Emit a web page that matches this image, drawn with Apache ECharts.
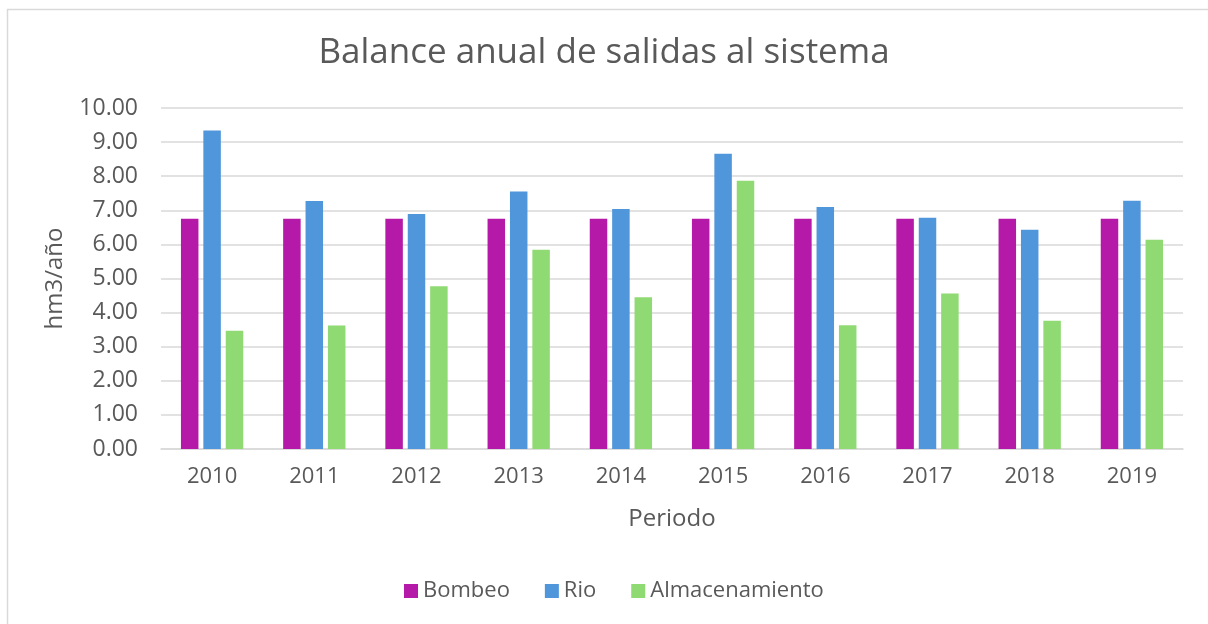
<!DOCTYPE html>
<html><head><meta charset="utf-8">
<script src="https://cdn.jsdelivr.net/npm/echarts@6/dist/echarts.min.js"></script>
<style>html,body{margin:0;padding:0;background:#fff}#c{width:1208px;height:624px}</style>
</head><body><div id="c"></div>
<script>
const years = ['2010','2011','2012','2013','2014','2015','2016','2017','2018','2019'];
const bombeo = [6.75,6.75,6.75,6.75,6.75,6.75,6.75,6.75,6.75,6.75];
const rio = [9.34,7.27,6.89,7.55,7.04,8.66,7.10,6.78,6.43,7.28];
const almacenamiento = [3.47,3.62,4.77,5.84,4.45,7.87,3.63,4.56,3.76,6.14];
const yTicks = [0,1,2,3,4,5,6,7,8,9,10];

const FONT = 'Open Sans';
const TXT = '#595959';
const chart = echarts.init(document.getElementById('c'));
chart.setOption({
  animation:false,
  textStyle:{fontFamily:FONT},
  graphic:[{type:'rect',shape:{x:7.5,y:9.5,width:1300,height:700},style:{fill:'none',stroke:'#d9d9d9',lineWidth:1.5},silent:true,z:-1}],
  title:{text:'Balance anual de salidas al sistema',left:'center',top:31,
    textStyle:{fontFamily:FONT,fontSize:35,fontWeight:'normal',color:TXT}},
  legend:{bottom:17,left:399,itemWidth:14,itemHeight:14,itemGap:35,icon:'rect',
    textStyle:{fontFamily:FONT,fontSize:22,color:TXT},
    data:['Bombeo','Rio','Almacenamiento']},
  grid:{left:161,right:25,top:108,bottom:175},
  xAxis:{type:'category',data:years,name:'Periodo',nameLocation:'middle',nameGap:58,
    nameTextStyle:{fontFamily:FONT,fontSize:24,color:TXT},
    axisLine:{lineStyle:{color:'#d9d9d9',width:1.5}},axisTick:{show:false},
    axisLabel:{fontFamily:FONT,fontSize:22,color:TXT,margin:17}},
  yAxis:{type:'value',min:yTicks[0],max:yTicks[yTicks.length-1],interval:1,
    name:'hm3/año',nameLocation:'middle',nameGap:94,
    nameTextStyle:{fontFamily:FONT,fontSize:24,color:TXT},
    axisLabel:{fontFamily:FONT,fontSize:23,color:TXT,margin:23,formatter:v=>v.toFixed(2)},
    splitLine:{lineStyle:{color:'#d9d9d9',width:1.5}},axisLine:{show:false},axisTick:{show:false}},
  series:[
    {name:'Bombeo',type:'bar',data:bombeo,barWidth:17.5,barGap:'28%',itemStyle:{color:'#b519a8'}},
    {name:'Rio',type:'bar',data:rio,barWidth:17.5,barGap:'28%',itemStyle:{color:'#5096da'}},
    {name:'Almacenamiento',type:'bar',data:almacenamiento,barWidth:17.5,barGap:'28%',itemStyle:{color:'#90da73'}}
  ]
});
</script></body></html>
